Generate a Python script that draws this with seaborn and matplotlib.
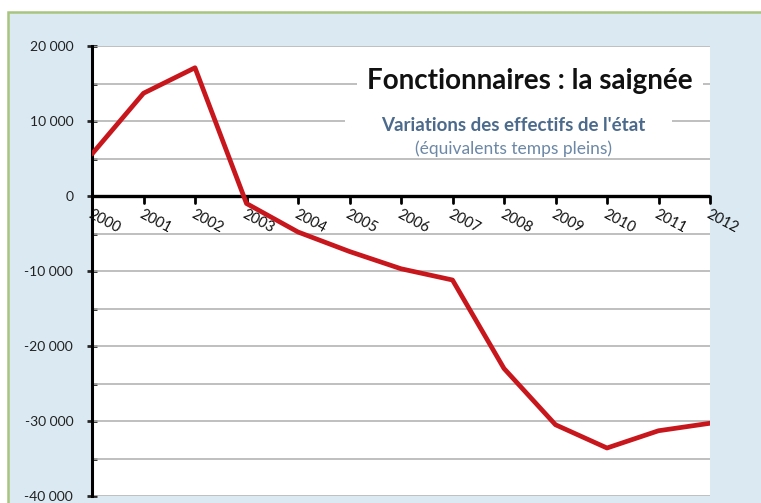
import numpy as np
import pandas as pd
import matplotlib
matplotlib.use("Agg")
import matplotlib.pyplot as plt
import matplotlib.ticker as mticker
from matplotlib.patches import Rectangle
import seaborn as sns

# donnees
annees = [2000, 2001, 2002, 2003, 2004, 2005, 2006, 2007, 2008, 2009, 2010, 2011, 2012]
variations = [5600, 13700, 17100, -1000, -4800, -7400, -9700, -11200, -23000, -30500, -33600, -31300, -30300]

titre = "Fonctionnaires : la saignée"
sous_titre = "Variations des effectifs de l'état"
note = "(équivalents temps pleins)"

sns.set_style("white")
plt.rcParams['font.family'] = ['Lato', 'DejaVu Sans']

df = pd.DataFrame({"annee": annees, "variation": variations})

W, H = 761, 503
fig = plt.figure(figsize=(W / 100, H / 100), dpi=100)
fig.patch.set_facecolor("white")
# cadre bleu clair avec bord vert
fig.patches.append(Rectangle((8 / W, -0.05), 1.2, 1 - 12 / H + 0.05, transform=fig.transFigure,
                             facecolor="#DBEAF2", edgecolor="#A9C47F", lw=1.8, zorder=-5))

ax = fig.add_axes([92 / W, 7 / H, (710 - 92) / W, (498 - 48) / H])
ax.set_zorder(3)
ax.set_facecolor("white")

sns.lineplot(data=df, x="annee", y="variation", ax=ax, color="#C8161D", lw=3.4, zorder=3)

ax.set_xlim(2000, 2012)
ax.set_ylim(-40000, 20000)
ax.set_xlabel("")
ax.set_ylabel("")

# grille tous les 5000
for v in np.arange(-40000, 20001, 5000):
    if v != 0:
        ax.axhline(v, color="#B4B4B4", lw=1.2, zorder=1)

# fonds blancs derriere le titre (coupent la grille)
ax.add_patch(Rectangle((0.429, 0.895), 0.560, 0.05, transform=ax.transAxes,
                       facecolor="white", edgecolor="none", zorder=1.5))
ax.add_patch(Rectangle((0.409, 0.81), 0.530, 0.03, transform=ax.transAxes,
                       facecolor="white", edgecolor="none", zorder=1.5))

for s in ["top", "right", "bottom"]:
    ax.spines[s].set_visible(False)
ax.spines["left"].set_linewidth(2.2)
ax.spines["left"].set_color("black")
ax.axhline(0, color="black", lw=2.4, zorder=2)

ax.yaxis.set_major_locator(mticker.MultipleLocator(10000))
ax.yaxis.set_minor_locator(mticker.MultipleLocator(5000))
ax.yaxis.set_major_formatter(mticker.FuncFormatter(lambda v, p: f"{v:,.0f}".replace(",", " ")))
ax.tick_params(axis="y", which="major", direction="inout", length=7, width=2, labelsize=10,
               labelcolor="#222222", pad=10, left=True)
ax.tick_params(axis="y", which="minor", direction="in", length=3.5, width=2, left=True)

# axe des x place a y=0
ax.set_xticks(annees)
ax.tick_params(axis="x", bottom=False, labelbottom=False)
for a in annees:
    ax.plot([a, a], [0, -900], color="black", lw=2, zorder=2, clip_on=False)
    ax.text(a, -1500, str(a), rotation=-28, rotation_mode="anchor", ha="left", va="top",
            fontsize=10.5, color="#111111", zorder=4)

ax.text(0.709, 0.922, titre, transform=ax.transAxes, ha="center", va="center", fontsize=20,
        fontweight="bold", color="#111111", zorder=5)
ax.text(0.682, 0.824, sous_titre, transform=ax.transAxes, ha="center", va="center", fontsize=13.5,
        fontweight="bold", color="#4B6A8C", zorder=5)
ax.text(0.682, 0.771, note, transform=ax.transAxes, ha="center", va="center", fontsize=12.5,
        color="#6C88A6", zorder=6)

fig.savefig("out.png", dpi=100)
